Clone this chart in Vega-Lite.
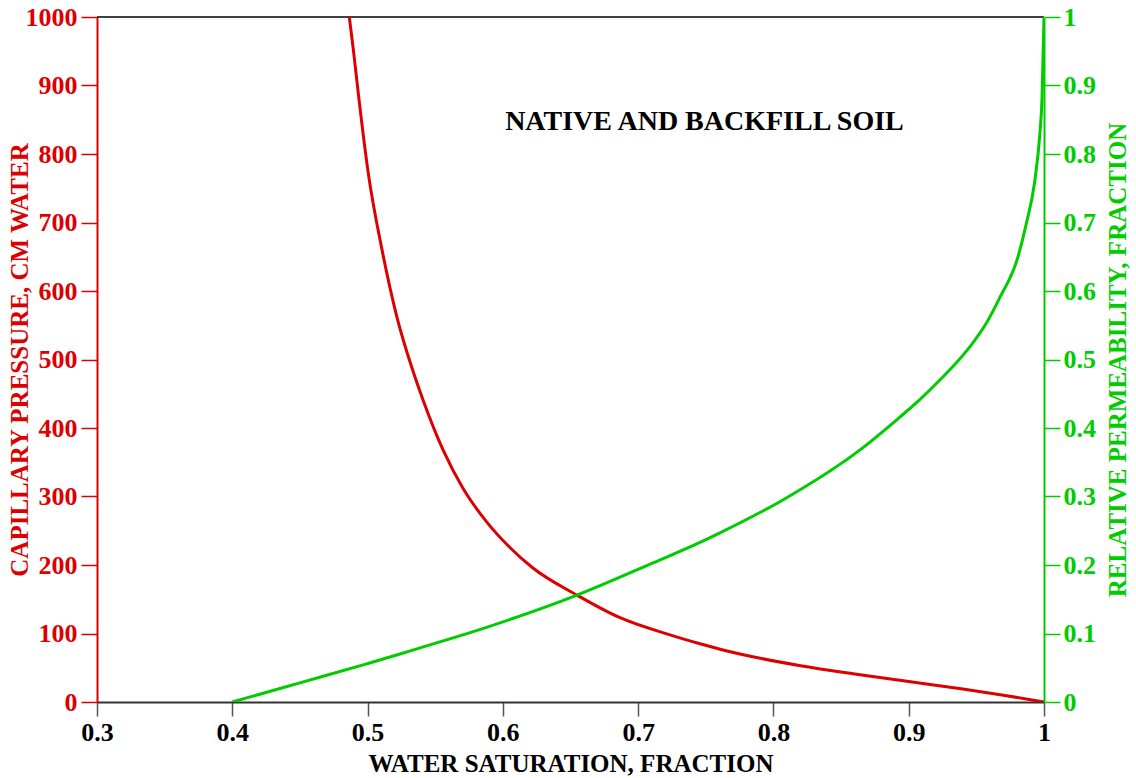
{
  "$schema": "https://vega.github.io/schema/vega-lite/v6.json",
  "width": 947,
  "height": 685,
  "autosize": {"type": "none"},
  "padding": {"left": 97, "top": 17, "right": 92, "bottom": 76},
  "background": "white",
  "config": {"view": {"stroke": null}, "font": "Liberation Serif"},
  "datasets": {
    "pc": [
      {"Sw": 0.4865, "Pc": 1000}, {"Sw": 0.4895, "Pc": 952}, {"Sw": 0.4937, "Pc": 879},
      {"Sw": 0.5003, "Pc": 775}, {"Sw": 0.5107, "Pc": 660}, {"Sw": 0.5217, "Pc": 562},
      {"Sw": 0.5326, "Pc": 489}, {"Sw": 0.541, "Pc": 441}, {"Sw": 0.5558, "Pc": 368},
      {"Sw": 0.5705, "Pc": 312}, {"Sw": 0.588, "Pc": 263}, {"Sw": 0.605, "Pc": 226},
      {"Sw": 0.622, "Pc": 196}, {"Sw": 0.6548, "Pc": 156}, {"Sw": 0.6866, "Pc": 123},
      {"Sw": 0.7235, "Pc": 98}, {"Sw": 0.7457, "Pc": 85}, {"Sw": 0.7605, "Pc": 77},
      {"Sw": 0.82, "Pc": 53}, {"Sw": 0.86, "Pc": 41}, {"Sw": 0.9, "Pc": 30},
      {"Sw": 0.94, "Pc": 19}, {"Sw": 0.97, "Pc": 10}, {"Sw": 1.0, "Pc": 0}
    ],
    "kr": [
      {"Sw": 0.4, "kr": 0}, {"Sw": 0.45, "kr": 0.028}, {"Sw": 0.5, "kr": 0.056},
      {"Sw": 0.524, "kr": 0.070}, {"Sw": 0.5388, "kr": 0.079}, {"Sw": 0.588, "kr": 0.109},
      {"Sw": 0.6548, "kr": 0.156}, {"Sw": 0.711, "kr": 0.203}, {"Sw": 0.7457, "kr": 0.233},
      {"Sw": 0.7605, "kr": 0.247}, {"Sw": 0.807, "kr": 0.295}, {"Sw": 0.864, "kr": 0.368},
      {"Sw": 0.8935, "kr": 0.416}, {"Sw": 0.908, "kr": 0.441}, {"Sw": 0.923, "kr": 0.47},
      {"Sw": 0.945, "kr": 0.518}, {"Sw": 0.958, "kr": 0.555}, {"Sw": 0.9675, "kr": 0.591},
      {"Sw": 0.98, "kr": 0.645}, {"Sw": 0.987, "kr": 0.699}, {"Sw": 0.993, "kr": 0.758},
      {"Sw": 0.997, "kr": 0.831}, {"Sw": 0.9985, "kr": 0.879}, {"Sw": 1.0, "kr": 1.0}
    ]
  },
  "layer": [
    {
      "layer": [
        {
          "data": {"values": [{}]},
          "mark": {"type": "rule", "color": "black", "strokeWidth": 1.5},
          "encoding": {"y": {"datum": 1000, "type": "quantitative"}}
        },
        {
          "data": {"name": "pc"},
          "mark": {"type": "line", "color": "#dd0000", "strokeWidth": 3, "clip": true, "interpolate": "monotone"},
          "encoding": {
            "x": {
              "field": "Sw", "type": "quantitative",
              "scale": {"domain": [0.3, 1], "nice": false},
              "axis": {
                "values": [0.3, 0.4, 0.5, 0.6, 0.7, 0.8, 0.9, 1],
                "format": "~g", "grid": false, "labelFlush": false, "labelOverlap": false,
                "title": "WATER SATURATION, FRACTION",
                "labelFont": "Liberation Serif", "labelFontWeight": "bold", "labelFontSize": 26,
                "labelColor": "black", "labelPadding": 3,
                "tickColor": "#555", "tickSize": 14, "tickWidth": 1.5,
                "domainColor": "#333", "domainWidth": 2,
                "titleFont": "Liberation Serif", "titleFontWeight": "bold", "titleFontSize": 25,
                "titleColor": "black", "titlePadding": 6
              }
            },
            "y": {
              "field": "Pc", "type": "quantitative",
              "scale": {"domain": [0, 1000], "nice": false},
              "axis": {
                "orient": "left",
                "values": [0, 100, 200, 300, 400, 500, 600, 700, 800, 900, 1000],
                "format": "d", "grid": false, "labelFlush": false, "labelOverlap": false,
                "title": "CAPILLARY PRESSURE, CM WATER",
                "labelFont": "Liberation Serif", "labelFontWeight": "bold", "labelFontSize": 26,
                "labelColor": "#dd0000", "labelPadding": 4,
                "tickColor": "#dd0000", "tickSize": 16, "tickWidth": 1.5,
                "domainColor": "#dd0000", "domainWidth": 2,
                "titleFont": "Liberation Serif", "titleFontWeight": "bold", "titleFontSize": 25,
                "titleColor": "#dd0000", "titlePadding": -7
              }
            }
          }
        },
        {
          "data": {"values": [{}]},
          "mark": {"type": "text", "font": "Liberation Serif", "fontWeight": "bold", "fontSize": 28, "color": "black"},
          "encoding": {
            "x": {"datum": 0.749, "type": "quantitative"},
            "y": {"datum": 847, "type": "quantitative"},
            "text": {"value": "NATIVE AND BACKFILL SOIL"}
          }
        }
      ]
    },
    {
      "data": {"name": "kr"},
      "mark": {"type": "line", "color": "#00cc00", "strokeWidth": 3, "clip": true, "interpolate": "monotone"},
      "encoding": {
        "x": {"field": "Sw", "type": "quantitative", "scale": {"domain": [0.3, 1], "nice": false}},
        "y": {
          "field": "kr", "type": "quantitative",
          "scale": {"domain": [0, 1], "nice": false},
          "axis": {
            "orient": "right",
            "values": [0, 0.1, 0.2, 0.3, 0.4, 0.5, 0.6, 0.7, 0.8, 0.9, 1],
            "format": "~g", "grid": false, "labelFlush": false, "labelOverlap": false,
            "title": "RELATIVE PERMEABILITY, FRACTION",
            "labelFont": "Liberation Serif", "labelFontWeight": "bold", "labelFontSize": 26,
            "labelColor": "#00cc00", "labelPadding": 3,
            "tickColor": "#00cc00", "tickSize": 16, "tickWidth": 1.5,
            "domainColor": "#00cc00", "domainWidth": 2,
            "titleFont": "Liberation Serif", "titleFontWeight": "bold", "titleFontSize": 25,
            "titleColor": "#00cc00", "titlePadding": 10, "titleAngle": 270, "titleBaseline": "top"
          }
        }
      }
    }
  ],
  "resolve": {"scale": {"y": "independent"}, "axis": {"y": "independent"}}
}
